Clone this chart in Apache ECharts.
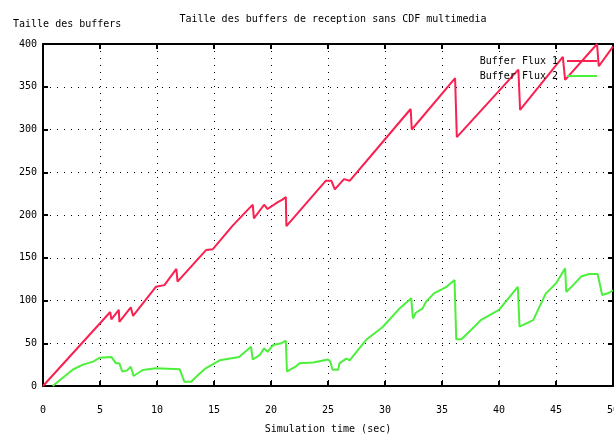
<!DOCTYPE html>
<html>
<head>
<meta charset="utf-8">
<script src="https://cdn.jsdelivr.net/npm/echarts@6/dist/echarts.min.js"></script>
<style>
html,body{margin:0;padding:0;background:#fff;}
#main{width:614px;height:435px;}
</style>
</head>
<body>
<div id="main"></div>
<script>
var chartTitle = 'Taille des buffers de reception sans CDF multimedia';
var xName = 'Simulation time (sec)';
var yName = 'Taille des buffers';
var seriesNames = ['Buffer Flux 1', 'Buffer Flux 2'];

var flux1T = [0, 5.9, 6.0, 6.65, 6.7, 7.7, 7.9, 9.9, 10.65, 11.7, 11.8, 14.3, 14.9, 16.6, 18.1, 18.4, 18.5, 19.4, 19.7, 20.6, 21.0, 21.3, 21.35, 24.8, 25.3, 25.6, 26.4, 26.9, 29.2, 32.25, 32.35, 36.15, 36.3, 41.7, 41.85, 45.6, 45.75, 45.8, 48.6, 48.75, 50];
var flux1V = [0, 86.5, 78, 89, 75, 92, 82, 116, 118, 137, 122, 159, 160, 187, 208, 212, 196, 212, 207, 215, 218, 221, 187, 240, 240, 230, 242, 240, 276, 324, 300, 360, 291, 370, 323, 385, 385, 358, 400, 374, 397];

var flux2T = [0.85, 2.6, 3.5, 4.4, 4.95, 6.0, 6.4, 6.7, 6.95, 7.35, 7.7, 7.95, 8.75, 9.9, 12.0, 12.4, 13.0, 13.7, 14.3, 15.5, 17.2, 18.25, 18.4, 19.0, 19.4, 19.7, 20.2, 20.9, 21.3, 21.4, 22.2, 22.5, 23.7, 25.0, 25.2, 25.4, 25.9, 26.0, 26.6, 26.9, 28.35, 29.8, 31.3, 32.3, 32.45, 32.7, 33.3, 33.6, 34.3, 35.4, 36.1, 36.25, 36.7, 37.7, 38.4, 40.0, 41.65, 41.8, 43.0, 44.1, 45.0, 45.8, 45.9, 46.5, 47.2, 47.9, 48.65, 49.05, 49.55, 50];
var flux2V = [0, 19, 25, 28.5, 33, 34, 26.5, 26.5, 17, 18, 22.6, 11.7, 18.7, 20.7, 19.5, 5, 5, 14, 21, 30, 34, 46, 31, 36, 44, 40, 48, 50, 53, 17, 23, 26.5, 27.5, 31, 28.5, 19, 19, 26.5, 32, 30, 54, 69, 91, 102.6, 79, 85.7, 90.8, 98.6, 108.4, 116, 124, 54.6, 54.6, 67.5, 77, 89, 116, 69.4, 77, 108, 120, 137.7, 110, 118, 128, 131, 131, 106.4, 108.4, 112];

function zip(t, v) { return t.map(function (x, i) { return [x, v[i]]; }); }

var mono = 'DejaVu Sans Mono';
var chart = echarts.init(document.getElementById('main'), null, {renderer: 'canvas'});

function axisCommon(extra) {
  var base = {
    type: 'value',
    axisLine: {show: true, onZero: false, lineStyle: {color: '#000', width: 2}},
    axisTick: {show: true, inside: true, length: 5, lineStyle: {color: '#000', width: 2}},
    axisLabel: {show: false},
    splitLine: {show: false}
  };
  for (var k in extra) base[k] = extra[k];
  return base;
}

var option = {
  animation: false,
  backgroundColor: '#fff',
  title: {
    text: chartTitle,
    left: 328, textAlign: 'center',
    top: 9,
    textStyle: {fontFamily: mono, fontSize: 10, fontWeight: 'normal', color: '#000'}
  },
  graphic: [{
    type: 'text', left: 13, top: 19,
    style: {text: yName, font: '10px "DejaVu Sans Mono"', fill: '#000'}
  }],
  legend: {
    orient: 'vertical',
    right: 12, top: 51,
    align: 'right',
    icon: 'rect',
    itemWidth: 30, itemHeight: 2,
    itemGap: 5,
    textStyle: {fontFamily: mono, fontSize: 10, color: '#000', padding: [0, 4, 0, 0]},
    data: seriesNames
  },
  grid: {left: 43, right: 1, top: 44, bottom: 49, containLabel: false, outerBoundsMode: 'none'},
  xAxis: [
    axisCommon({
      min: 0, max: 50, interval: 5, position: 'bottom',
      name: xName, nameLocation: 'middle', nameGap: 38,
      nameTextStyle: {fontFamily: mono, fontSize: 10, color: '#000'},
      axisLabel: {show: true, margin: 19, fontFamily: mono, fontSize: 10, color: '#000'},
      splitLine: {show: true, lineStyle: {color: '#000', width: 1, type: [1, 6]}}
    }),
    axisCommon({min: 0, max: 50, interval: 5, position: 'top'})
  ],
  yAxis: [
    axisCommon({
      min: 0, max: 400, interval: 50, position: 'left',
      axisLabel: {show: true, margin: 6, fontFamily: mono, fontSize: 10, color: '#000'},
      splitLine: {show: true, lineStyle: {color: '#000', width: 1, type: [1, 6]}}
    }),
    axisCommon({min: 0, max: 400, interval: 50, position: 'right'})
  ],
  series: [
    {
      name: seriesNames[0], type: 'line', xAxisIndex: 0, yAxisIndex: 0,
      showSymbol: false, symbol: 'none',
      lineStyle: {color: '#fa2050', width: 2}, itemStyle: {color: '#fa2050'},
      data: zip(flux1T, flux1V)
    },
    {
      name: seriesNames[1], type: 'line', xAxisIndex: 0, yAxisIndex: 0,
      showSymbol: false, symbol: 'none',
      lineStyle: {color: '#4cf03c', width: 2}, itemStyle: {color: '#4cf03c'},
      data: zip(flux2T, flux2V)
    }
  ]
};
chart.setOption(option);
</script>
</body>
</html>
